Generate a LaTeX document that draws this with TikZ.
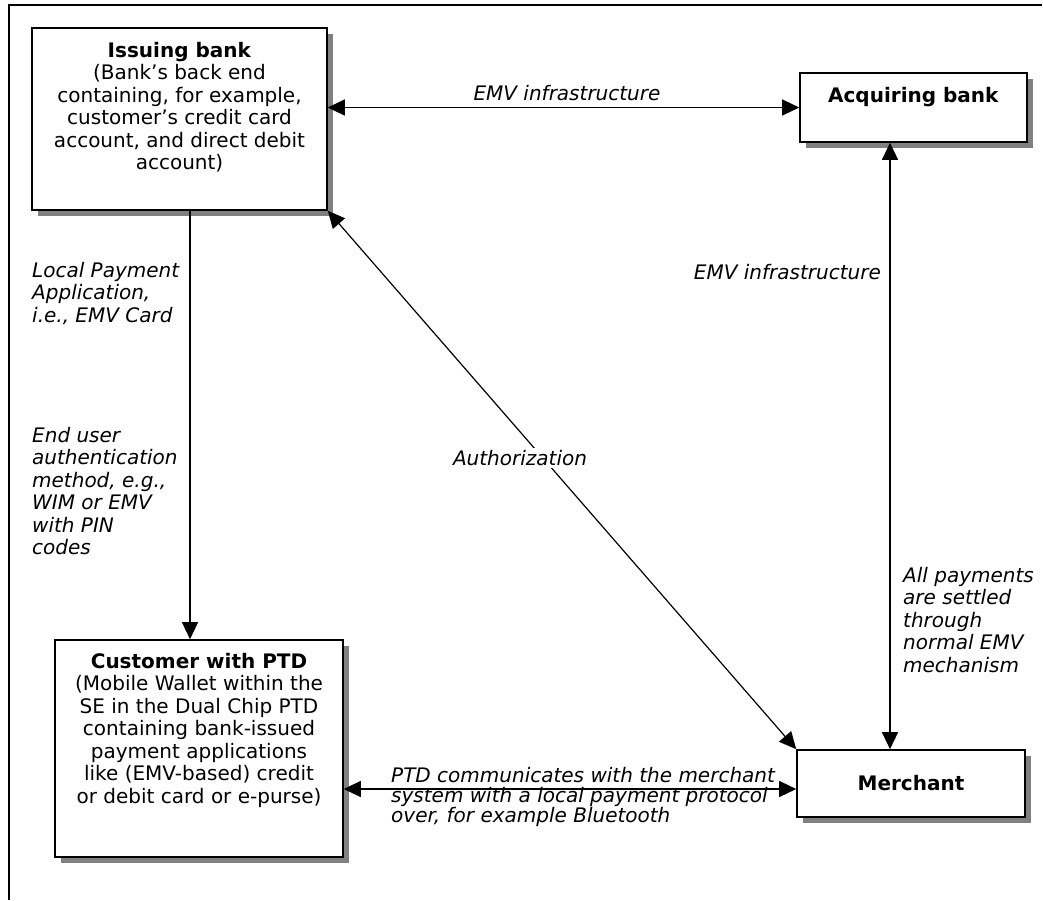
\documentclass[tikz,border=0pt]{standalone}
\usepackage{fontspec}
\setmainfont{DejaVu Sans}
\usetikzlibrary{arrows.meta,shadows}
\begin{document}
\begin{tikzpicture}[x=1pt,y=-1pt,
  box/.style={draw=black, line width=1.6pt, fill=white, rectangle, inner sep=0pt,
    drop shadow={shadow xshift=6pt, shadow yshift=-6pt, fill=black!50, opacity=1}},
  boxtext/.style={font=\fontsize{20}{22.5}\selectfont, align=center, inner sep=0pt},
  lbl/.style={font=\fontsize{20}{22.5}\selectfont\itshape, inner sep=0pt},
  tip/.style={line width=1.2pt, -{Triangle[length=17pt,width=16pt]}},
  twotip/.style={line width=1.2pt, {Triangle[length=17pt,width=16pt]}-{Triangle[length=17pt,width=16pt]}}
]
\useasboundingbox (0,0) rectangle (1043,900);
% outer frame (top and left edges)
\draw[line width=1.6pt] (9,900) -- (9,5) -- (1042,5);

% boxes
\node[box, minimum width=295pt, minimum height=182pt] (issuing) at (179.5,119) {};
\node[box, minimum width=227pt, minimum height=69pt] (acquiring) at (913.5,107.5) {};
\node[box, minimum width=288pt, minimum height=217pt] (customer) at (199,748.5) {};
\node[box, minimum width=228pt, minimum height=67pt] (merchant) at (911,783.5) {};

% box texts
\node[boxtext, anchor=north] (issuingtxt) at (179.5,42)
  {\textbf{Issuing bank}\\(Bank’s back end\\containing, for example,\\customer’s credit card\\account, and direct debit\\account)};
\node[boxtext] (acquiringtxt) at (913.5,97) {\textbf{Acquiring bank}};
\node[boxtext, anchor=north] (customertxt) at (199,653)
  {\textbf{Customer with PTD}\\(Mobile Wallet within the\\SE in the Dual Chip PTD\\containing bank-issued\\payment applications\\like (EMV-based) credit\\or debit card or e-purse)};
\node[boxtext] (merchanttxt) at (911,783) {\textbf{Merchant}};

% connectors
\draw[twotip] (issuing.east |- acquiring.west) -- (acquiring.west);
\draw[twotip] (acquiring.south -| 890,0) -- (merchant.north -| 890,0);
\draw[tip] (issuing.south -| 190,0) -- (customer.north -| 190,0);
\draw[twotip] (issuing.south east) -- (merchant.north west);
\draw[twotip] (customer.east |- 0,789) -- (merchant.west |- 0,789);

% connector labels
\node[lbl] (emvtop) at (567,93) {EMV infrastructure};
\node[lbl, anchor=east] (emvright) at (881,272) {EMV infrastructure};
\node[lbl, fill=white, inner sep=2pt] (auth) at (520,458) {Authorization};
\node[lbl, anchor=north west, align=left] (lpa) at (32,262)
  {Local Payment\\Application,\\i.e., EMV Card};
\node[lbl, anchor=north west, align=left] (euam) at (32,427)
  {End user\\authentication\\method, e.g.,\\WIM or EMV\\with PIN\\codes};
\node[lbl, anchor=north west, align=left] (settled) at (903,567)
  {All payments\\are settled\\through\\normal EMV\\mechanism};
\node[lbl, anchor=north west, align=left, font=\fontsize{20}{20}\selectfont\itshape] (ptdcomm) at (391,767.5)
  {PTD communicates with the merchant\\system with a local payment protocol\\over, for example Bluetooth};
\end{tikzpicture}
\end{document}
